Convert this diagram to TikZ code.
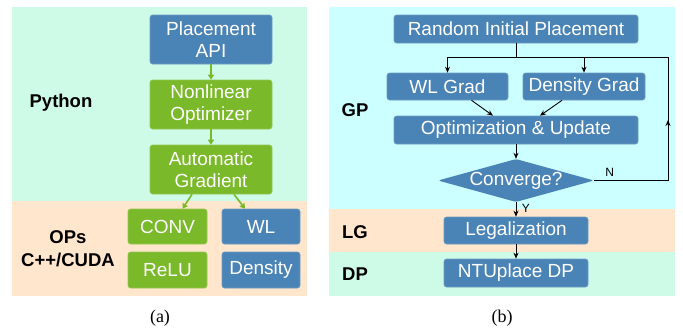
\documentclass[tikz,border=0pt]{standalone}
\usepackage{fontspec}
\setmainfont{Liberation Serif}
\setsansfont{Liberation Sans}
\usepackage{tikz}
\usetikzlibrary{shapes.geometric, arrows.meta, calc}

\definecolor{boxblue}{RGB}{74,131,181}
\definecolor{boxgreen}{RGB}{122,185,41}
\definecolor{bgmint}{RGB}{206,250,232}
\definecolor{bgcyan}{RGB}{204,255,255}
\definecolor{bgpeach}{RGB}{255,230,204}

\tikzset{
  blk/.style = {rounded corners = 2.5pt, inner sep = 0pt, text = white,
    font = \sffamily\fontsize{19}{22}\selectfont, align = center},
  blkblue/.style = {blk, fill = boxblue, draw = boxblue!80!white, line width = 0.6pt},
  blkgreen/.style = {blk, fill = boxgreen, draw = boxgreen!80!white, line width = 0.6pt},
  lbl/.style = {font = \sffamily\bfseries\fontsize{18.5}{23}\selectfont, align = center},
  garrow/.style = {boxgreen, line width = 1.6pt, -{Triangle[length = 5pt, width = 6pt]}},
  karrow/.style = {black, line width = 0.9pt, -{Stealth[length = 6pt, width = 5pt]}},
  capt/.style = {font = \fontsize{18}{20}\selectfont}
}

\begin{document}
\begin{tikzpicture}[x = 1pt, y = -1pt]

\useasboundingbox (0, 0) rectangle (683, 335);

% (a)
\fill[bgmint] (12, 7) rectangle (307, 201);
\fill[bgpeach] (12, 201) rectangle (307, 296);

\node[lbl] (python) at (61, 103) {Python};
\node[lbl] (ops) at (68, 249) {OPs\\C++/CUDA};

\node[blkblue, minimum width = 122pt, minimum height = 49pt] (papi) at (211, 39.5) {Placement\\API};
\node[blkgreen, minimum width = 122pt, minimum height = 49pt] (nlopt) at (211, 104.5) {Nonlinear\\Optimizer};
\node[blkgreen, minimum width = 122pt, minimum height = 49pt] (agrad) at (211, 169.5) {Automatic\\Gradient};
\node[blkgreen, minimum width = 79pt, minimum height = 35pt] (conv) at (167.5, 226.5) {CONV};
\node[blkblue, minimum width = 78pt, minimum height = 35pt] (wl) at (261, 226.5) {WL};
\node[blkgreen, minimum width = 79pt, minimum height = 36pt] (relu) at (167.5, 270) {ReLU};
\node[blkblue, minimum width = 78pt, minimum height = 36pt] (dens) at (261, 270) {Density};

\draw[garrow] (papi) -- (nlopt);
\draw[garrow] (nlopt) -- (agrad);
\draw[garrow] ($(agrad.south) + (-19, 0)$) -- ($(conv.north) + (15, 0)$);
\draw[garrow] ($(agrad.south) + (23, 0)$) -- ($(wl.north) + (-16, 0)$);

\node[capt] (capa) at (160, 318) {(a)};

% (b)
\fill[bgcyan] (329, 7) rectangle (675, 209);
\fill[bgpeach] (329, 209) rectangle (675, 252);
\fill[bgmint] (329, 252) rectangle (675, 296);

\node[lbl] (gp) at (355, 110) {GP};
\node[lbl] (lg) at (355, 232) {LG};
\node[lbl] (dp) at (355, 274) {DP};

\node[blkblue, minimum width = 244pt, minimum height = 28pt] (rip) at (516, 29) {Random Initial Placement};
\node[blkblue, minimum width = 121pt, minimum height = 27pt] (wlg) at (447.5, 86.5) {WL Grad};
\node[blkblue, minimum width = 122pt, minimum height = 27pt] (dg) at (584, 86.5) {Density Grad};
\node[blkblue, minimum width = 244pt, minimum height = 28pt] (opt) at (516, 130) {Optimization \& Update};
\node[blk, diamond, fill = boxblue, aspect = 3.6, minimum width = 156pt, minimum height = 43pt] (cvg) at (516, 180.5) {Converge?};
\node[blkblue, minimum width = 144pt, minimum height = 27pt] (leg) at (516, 230.5) {Legalization};
\node[blkblue, minimum width = 144pt, minimum height = 28pt] (ntu) at (516, 273) {NTUplace DP};

\coordinate (split) at (516, 57);
\coordinate (loopt) at (668, 57);
\coordinate (loopm) at (668, 120);
\coordinate (loopb) at (668, 180.5);

\draw[black, line width = 0.9pt] (rip) -- (split);
\draw[black, line width = 0.9pt] (wlg.north |- split) -- (loopt);
\draw[karrow] (wlg.north |- split) -- (wlg.north);
\draw[karrow] (dg.north |- split) -- (dg.north);
\draw[karrow] ($(wlg.south) + (24, 0)$) -- ($(opt.north) + (-23, 0)$);
\draw[karrow] ($(dg.south) + (-22, 0)$) -- ($(opt.north) + (24, 0)$);
\draw[karrow] (opt) -- (cvg);
\draw[black, line width = 0.9pt] (cvg.east) -- node[above, near start, font = \sffamily\fontsize{12}{13}\selectfont, xshift = -3pt] {N} (loopb) -- (loopm);
\draw[karrow] (loopb) -- (loopm);
\draw[black, line width = 0.9pt] (loopm) -- (loopt);
\draw[karrow] (cvg) -- node[right, pos = 0.45, font = \sffamily\fontsize{12}{13}\selectfont, xshift = 2pt] {Y} (leg);
\draw[karrow] (leg) -- (ntu);

\node[capt] (capb) at (502, 318) {(b)};

\end{tikzpicture}
\end{document}
